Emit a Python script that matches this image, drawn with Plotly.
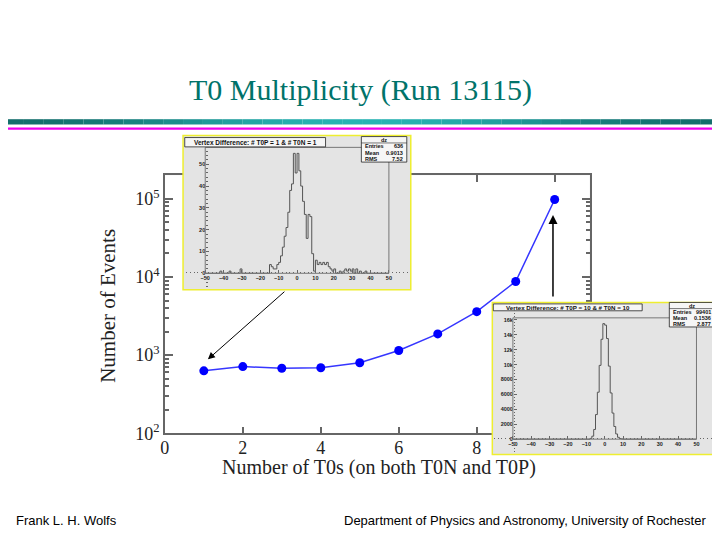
import math
import plotly.graph_objects as go

W, H = 720, 540

# -------------------------------
# data
# -------------------------------
n_t0 = [1, 2, 3, 4, 5, 6, 7, 8, 9, 10]
n_events = [630, 713, 680, 690, 800, 1145, 1870, 3600, 8770, 98000]
x_ticks = [0, 2, 4, 6, 8, 10]
x_ticktext = ["0", "2", "4", "6", "8", ""]  # the "10" sits under the second inset
y_ticks = [1e2, 1e3, 1e4, 1e5]
y_ticktext = ["10<sup>2</sup>", "10<sup>3</sup>", "10<sup>4</sup>", "10<sup>5</sup>"]

# inset 1: dz for 1 T0P & 1 T0N (bins of 1, lower edges)
h1_bins = list(range(-42, 39))
h1_counts = [1, 0, 0, 0, 0, 1, 0, 0, 0, 0, 0, 2, 0,
             0, 0, 0, 0, 0, 0, 0, 0, 0, 0, 0, 0, 0, 0,
             4, 3, 2, 2, 4, 5, 8, 12, 17, 21, 28, 38, 41, 55, 46,
             55, 47, 40, 33, 27, 16, 27, 26, 9, 1,
             6, 4, 5, 4, 5, 4, 5, 3, 2, 1, 2,
             0, 0, 1, 0, 1, 2, 1, 2, 1, 2, 0, 2, 0, 1, 0, 0, 1, 0]
h1_title = "Vertex Difference: # T0P = 1 & # T0N = 1"
h1_stats = [("Entries", "636"), ("Mean", "0.9013"), ("RMS", "7.52")]
h1_yticks = [0, 10, 20, 30, 40, 50]

# inset 2: dz for 10 T0P & 10 T0N
h2_bins = list(range(-8, 10))
h2_counts = [100, 400, 1300, 3300, 6300, 9900, 13400, 15500, 15300,
             13500, 9800, 6200, 3500, 1700, 700, 250, 80, 30]
h2_title = "Vertex Difference: # T0P = 10 & # T0N = 10"
h2_stats = [("Entries", "99401"), ("Mean", "0.1536"), ("RMS", "2.877")]
h2_yticks = [0, 2000, 4000, 6000, 8000, 10000, 12000, 14000, 16000]

hist_xticks = [-50, -40, -30, -20, -10, 0, 10, 20, 30, 40, 50]

# the page shows the figure shifted a few px to the right
OFFX, OFFY = 8, 0


def px(x):
    return (x - OFFX) / W


def py(y):
    return 1 - (y - OFFY) / H


SERIF = "Liberation Serif, Times New Roman, serif"
SANS = "Liberation Sans, Arial, sans-serif"

fig = go.Figure()

# main curve
fig.add_trace(go.Scatter(
    x=n_t0, y=n_events, mode="lines+markers",
    line=dict(color="#3636ff", width=1.5),
    marker=dict(color="#0000ff", size=9),
    xaxis="x", yaxis="y", showlegend=False))

shapes = []
annotations = []


def label(x, y, text, font, xa="center", ya="middle", **kw):
    d = dict(x=px(x), y=py(y), xref="paper", yref="paper", text=text, showarrow=False,
             xanchor=xa, yanchor=ya, font=font)
    d.update(kw)
    annotations.append(d)


# white background of main frame (plot_bgcolor is the inset gray)
shapes.append(dict(type="rect", xref="paper", yref="paper", layer="below",
                   x0=px(161.7), x1=px(589), y0=py(433.3), y1=py(170.5),
                   fillcolor="white", line=dict(width=0)))


def add_inset(n, bins, counts, title, stats, yticks, box, frame, ymax, tbox, sbox, tfs):
    x0, y0, x1, y1 = box
    fx0, fy0, fx1, fy1 = frame
    ux = (fx1 - fx0) / 100.0
    uy = (fy1 - fy0) / ymax
    xr = [-50 - (fx0 - x0) / ux, 50 + (x1 - fx1) / ux]
    yr = [-(y1 - fy1) / uy, ymax + (fy0 - y0) / uy]
    tickfont = dict(family=SANS, size=5.5, color="#222", weight="bold")
    fig.layout[f"xaxis{n}"] = dict(
        domain=[px(x0), px(x1)], range=xr, anchor="free", position=py(fy1),
        tickvals=hist_xticks, ticks="inside", ticklen=3, tickcolor="#666",
        tickfont=tickfont, showgrid=False, zeroline=False, showline=False,
        minor=dict(dtick=2, ticks="inside", ticklen=1.5, tickcolor="#666"))
    fig.layout[f"yaxis{n}"] = dict(
        domain=[py(y1), py(y0)], range=yr, anchor="free", position=px(fx0),
        tickvals=yticks, ticks="inside", ticklen=3, tickcolor="#666",
        tickfont=tickfont, showgrid=False, zeroline=False, showline=False,
        minor=dict(dtick=(yticks[1] - yticks[0]) / 5, ticks="inside", ticklen=1.5,
                   tickcolor="#666"))
    xs = [-50] + bins + [bins[-1] + 1, 50]
    ys = [0] + counts + [0, 0]
    fig.add_trace(go.Scatter(x=xs, y=ys, mode="lines", line=dict(color="#555", width=1, shape="hv"),
                             xaxis=f"x{n}", yaxis=f"y{n}", showlegend=False))
    # histogram frame
    shapes.append(dict(type="rect", xref=f"x{n}", yref=f"y{n}", layer="above",
                       x0=-50, x1=50, y0=0, y1=ymax, line=dict(color="#777", width=1)))
    # yellow border
    shapes.append(dict(type="rect", xref="paper", yref="paper", layer="above",
                       x0=px(x0), x1=px(x1), y0=py(y1), y1=py(y0),
                       line=dict(color="#eeee30", width=1.5)))
    # title box
    tx0, ty0, tx1, ty1 = tbox
    shapes.append(dict(type="rect", xref="paper", yref="paper", layer="above",
                       x0=px(tx0), x1=px(tx1), y0=py(ty1), y1=py(ty0),
                       fillcolor="#f6f6f6", line=dict(color="#222", width=0.8)))
    label((tx0 + tx1) / 2, (ty0 + ty1) / 2, title,
          dict(family=SANS, size=tfs, color="#111", weight="bold"))
    # stats box
    sx0, sy0, sx1, sy1 = sbox
    shapes.append(dict(type="rect", xref="paper", yref="paper", layer="above",
                       x0=px(sx0), x1=px(sx1), y0=py(sy1), y1=py(sy0),
                       fillcolor="#f6f6f6", line=dict(color="#222", width=0.8)))
    row_h = (sy1 - sy0) / 4.0
    shapes.append(dict(type="line", xref="paper", yref="paper", layer="above",
                       x0=px(sx0), x1=px(sx1), y0=py(sy0 + row_h), y1=py(sy0 + row_h),
                       line=dict(color="#222", width=0.6)))
    sfont = dict(family=SANS, size=5.5, color="#111", weight="bold")
    label((sx0 + sx1) / 2, sy0 + row_h / 2, "dz", sfont)
    for i, (name, val) in enumerate(stats):
        yc = sy0 + row_h * (i + 1.5)
        label(sx0 + 2, yc, name, sfont, xa="left")
        label(sx1 - 2, yc, val, sfont, xa="right")


add_inset(2, h1_bins, h1_counts, h1_title, h1_stats, h1_yticks,
          box=(180, 130, 409, 287), frame=(202.3, 142, 387, 270.3), ymax=57.75,
          tbox=(181.7, 132, 323.3, 141.5), sbox=(359.3, 131, 405, 157), tfs=6.5)
add_inset(3, h2_bins, h2_counts, h2_title, h2_stats, h2_yticks,
          box=(491, 300, 716, 455), frame=(511.7, 315.7, 696.3, 439.3), ymax=16275,
          tbox=(492, 301.5, 641.7, 308.5), sbox=(669, 300, 715, 325), tfs=6.2)

# header band: dithered teal gradient and magenta rule
nseg = 36
for i in range(nseg):
    t = (i + 0.5) / nseg
    k = 0.5 - 0.5 * math.cos(2 * math.pi * t)
    r = int(20 + (40 - 20) * k)
    g = int(110 + (180 - 110) * k)
    b = int(108 + (180 - 108) * k)
    shapes.append(dict(type="rect", xref="paper", yref="paper", layer="above",
                       x0=px(W * i / nseg), x1=px(W * (i + 1) / nseg), y0=py(118.7), y1=py(113.3),
                       fillcolor=f"rgb({r},{g},{b})", line=dict(width=0)))
shapes.append(dict(type="rect", xref="paper", yref="paper", layer="above",
                   x0=px(0), x1=px(W), y0=py(124), y1=py(121.7),
                   fillcolor="#ee00ee", line=dict(width=0)))

# texts
label(358.5, 84, "T0 Multiplicity (Run 13115)", dict(family=SERIF, size=30, color="#00736a"))
label(377, 468, "Number of T0s (on both T0N and T0P)", dict(family=SERIF, size=20, color="#222"))
label(105, 303, "Number of Events", dict(family=SERIF, size=21, color="#222"), textangle=-90)
label(10, 522, "Frank L. H. Wolfs", dict(family=SANS, size=13, color="black"), xa="left")
label(708, 522, "Department of Physics and Astronomy, University of Rochester",
      dict(family=SANS, size=13, color="black"), xa="right")

# arrows to the points the insets belong to
annotations += [
    dict(x=px(205), y=py(358), xref="paper", yref="paper", ax=78, ay=-69, text="",
         showarrow=True, arrowhead=2, arrowsize=1.4, arrowwidth=1, arrowcolor="black", standoff=0),
    dict(x=px(552), y=py(211), xref="paper", yref="paper", ax=0, ay=83, text="",
         showarrow=True, arrowhead=2, arrowsize=1.2, arrowwidth=1.5, arrowcolor="black", standoff=0),
]

minor_vals = [m * 10 ** d for d in range(2, 6) for m in range(2, 10) if m * 10 ** d <= 2e5]

fig.update_layout(
    width=W, height=H, margin=dict(l=0, r=0, t=0, b=0),
    paper_bgcolor="white", plot_bgcolor="#e4e4e4",
    shapes=shapes, annotations=annotations, showlegend=False,
    xaxis=dict(domain=[px(161.7), px(589)], range=[0, 10.9], anchor="y",
               tickvals=x_ticks, ticktext=x_ticktext, ticks="inside", ticklen=7, tickwidth=1.5,
               tickcolor="#666", showline=True, linecolor="#666", linewidth=1.5, mirror="ticks",
               showgrid=False, zeroline=False, ticklabelstandoff=-3,
               tickfont=dict(family=SERIF, size=18, color="#222")),
    yaxis=dict(type="log", domain=[py(433.3), py(170.5)], range=[2, math.log10(2e5)], anchor="x",
               tickvals=y_ticks, ticktext=y_ticktext, ticks="inside", ticklen=8, tickwidth=1.5,
               tickcolor="#666", showline=True, linecolor="#666", linewidth=1.5, mirror="ticks",
               showgrid=False, zeroline=False,
               minor=dict(tickvals=minor_vals, ticks="inside", ticklen=4, tickcolor="#666"),
               tickfont=dict(family=SERIF, size=18, color="#222")),
)

fig.write_html("out.html")
